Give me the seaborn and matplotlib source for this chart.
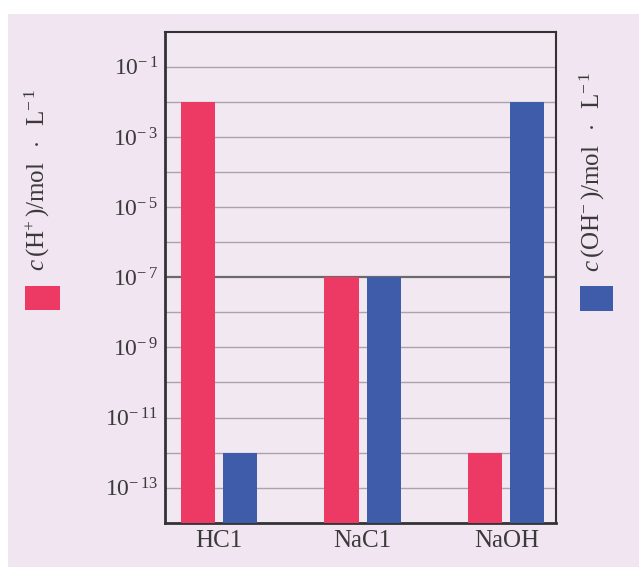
import matplotlib
matplotlib.use("Agg")
import matplotlib.pyplot as plt
import seaborn as sns
import pandas as pd
from matplotlib.patches import Rectangle
from matplotlib.ticker import NullFormatter, FixedLocator

categories = ['HC1', 'NaC1', 'NaOH']
h_conc = [1e-2, 1e-7, 1e-12]
oh_conc = [1e-12, 1e-7, 1e-2]
ions = ['H', 'OH']
label_exps = [1, 3, 5, 7, 9, 11, 13]
grid_exps = list(range(1, 14))

RED = '#EC3A65'
BLUE = '#3F5CAB'
BG = '#F0E5F0'

sns.set_theme(style='white')
plt.rcParams['font.family'] = ['Liberation Serif', 'DejaVu Serif']
plt.rcParams['mathtext.fontset'] = 'custom'
plt.rcParams['mathtext.rm'] = 'Liberation Serif'
plt.rcParams['mathtext.it'] = 'Liberation Serif:italic'

df = pd.DataFrame({
    'category': categories * 2,
    'ion': [ions[0]] * len(categories) + [ions[1]] * len(categories),
    'value': h_conc + oh_conc,
})

fig = plt.figure(figsize=(6.39, 5.67), dpi=100)
fig.patch.set_facecolor('white')
fig.patches.append(Rectangle((0.013, 0.0), 0.987, 0.975, transform=fig.transFigure,
                             facecolor=BG, edgecolor='none', zorder=-10))
ax = fig.add_axes([0.258, 0.078, 0.612, 0.866])
ax.set_facecolor('#F2E8F2')

sns.barplot(data=df, x='category', y='value', hue='ion', hue_order=ions,
            palette=[RED, BLUE], width=0.585, gap=0.19, log_scale=True,
            saturation=1, linewidth=0, edgecolor='none',
            legend=False, ax=ax, zorder=3)

ax.set_yscale('log')
ax.set_ylim(1e-14, 1e0)
ax.set_xlim(-0.375, 2.345)

ax.yaxis.set_major_locator(FixedLocator([10.0 ** -e for e in label_exps]))
ax.set_yticklabels([r'$10^{-\,%d}$' % e for e in label_exps])
ax.yaxis.set_minor_locator(FixedLocator([10.0 ** -e for e in grid_exps if e not in label_exps]))
ax.yaxis.set_minor_formatter(NullFormatter())
ax.tick_params(axis='y', which='both', length=0, labelsize=17, labelcolor='#3a3a3a', pad=5)
ax.tick_params(axis='x', length=0, labelsize=18, labelcolor='#3a3a3a', pad=5)
ax.set_xlabel('')
ax.set_ylabel('')

for e in grid_exps:
    if e == 7:
        ax.axhline(10.0 ** -e, color='#6a6a6a', lw=1.6, zorder=1)
    else:
        ax.axhline(10.0 ** -e, color='#aaa3aa', lw=1.0, zorder=1)

for side, sp in ax.spines.items():
    sp.set_visible(True)
    sp.set_color('#333333')
    sp.set_linewidth(2.0 if side in ('left', 'bottom') else 1.5)

fig.text(0.059, 0.683, r'$\mathit{c}\,$(H$^{+}\,$)/mol $\;\cdot\;$ L$^{-\,1}$', rotation=90,
         ha='center', va='center', fontsize=18, color='#3a3a3a')
fig.text(0.927, 0.697, r'$\mathit{c}\,$(OH$^{-}\,$)/mol $\;\cdot\;$ L$^{-\,1}$', rotation=90,
         ha='center', va='center', fontsize=18, color='#3a3a3a')

fig.patches.append(Rectangle((25 / 639, 1 - 310 / 567), 35 / 639, 24 / 567,
                             transform=fig.transFigure, facecolor=RED, edgecolor='none'))
fig.patches.append(Rectangle((580 / 639, 1 - 311 / 567), 33 / 639, 25 / 567,
                             transform=fig.transFigure, facecolor=BLUE, edgecolor='none'))

fig.savefig('out.png', dpi=100, facecolor=fig.get_facecolor())
